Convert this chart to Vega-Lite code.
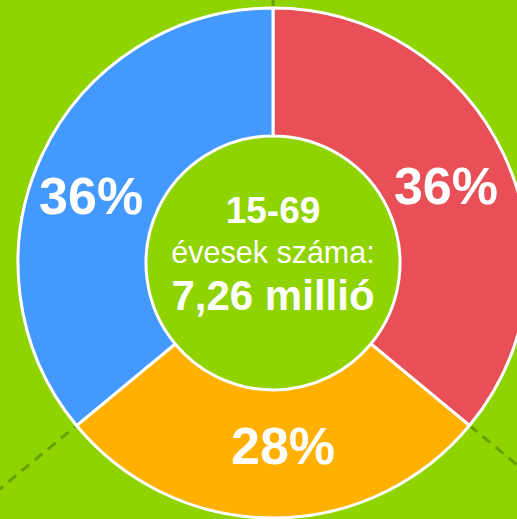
{
  "$schema": "https://vega.github.io/schema/vega-lite/v6.json",
  "width": 546,
  "height": 526,
  "padding": 0,
  "autosize": {"type": "none"},
  "background": "#8fd300",
  "view": {"stroke": null},
  "datasets": {
    "slices": [
      {"csoport": "A", "ertek": 36, "sorrend": 1, "cimke": "36%"},
      {"csoport": "B", "ertek": 28, "sorrend": 2, "cimke": "28%"},
      {"csoport": "C", "ertek": 36, "sorrend": 3, "cimke": "36%"}
    ],
    "lines": [
      {"id": 1, "x": 0, "y": 255},
      {"id": 1, "x": 0, "y": 420},
      {"id": 2, "x": 196.5, "y": -162.5},
      {"id": 2, "x": 330, "y": -273},
      {"id": 3, "x": -196.5, "y": -162.5},
      {"id": 3, "x": -330, "y": -273}
    ]
  },
  "layer": [
    {
      "data": {"name": "lines"},
      "mark": {"type": "line", "stroke": "#6a9f00", "strokeWidth": 3, "strokeDash": [10, 7], "clip": false},
      "encoding": {
        "x": {"field": "x", "type": "quantitative", "scale": {"domain": [-273, 273], "nice": false, "zero": false}, "axis": null},
        "y": {"field": "y", "type": "quantitative", "scale": {"domain": [-263, 263], "nice": false, "zero": false}, "axis": null},
        "detail": {"field": "id", "type": "nominal"}
      }
    },
    {
      "data": {"name": "slices"},
      "mark": {"type": "arc", "outerRadius": 255, "innerRadius": 127, "stroke": "white", "strokeWidth": 3},
      "encoding": {
        "theta": {"field": "ertek", "type": "quantitative", "stack": true},
        "order": {"field": "sorrend", "type": "quantitative"},
        "color": {"field": "csoport", "type": "nominal", "scale": {"domain": ["A", "B", "C"], "range": ["#e84f56", "#ffb000", "#4499ff"]}, "legend": null}
      }
    },
    {
      "data": {"name": "slices"},
      "mark": {"type": "text", "radius": 190, "dx": 1, "dy": 6, "font": "Liberation Sans", "fontWeight": "bold", "fontSize": 52, "fill": "white", "align": "center", "baseline": "middle"},
      "encoding": {
        "theta": {"field": "ertek", "type": "quantitative", "stack": true},
        "order": {"field": "sorrend", "type": "quantitative"},
        "text": {"field": "cimke", "type": "nominal"},
        "opacity": {"condition": {"test": "datum.csoport === 'A'", "value": 1}, "value": 0}
      }
    },
    {
      "data": {"name": "slices"},
      "mark": {"type": "text", "radius": 190, "dx": 10, "dy": -5, "font": "Liberation Sans", "fontWeight": "bold", "fontSize": 52, "fill": "white", "align": "center", "baseline": "middle"},
      "encoding": {
        "theta": {"field": "ertek", "type": "quantitative", "stack": true},
        "order": {"field": "sorrend", "type": "quantitative"},
        "text": {"field": "cimke", "type": "nominal"},
        "opacity": {"condition": {"test": "datum.csoport === 'B'", "value": 1}, "value": 0}
      }
    },
    {
      "data": {"name": "slices"},
      "mark": {"type": "text", "radius": 190, "dx": -10, "dy": 16, "font": "Liberation Sans", "fontWeight": "bold", "fontSize": 52, "fill": "white", "align": "center", "baseline": "middle"},
      "encoding": {
        "theta": {"field": "ertek", "type": "quantitative", "stack": true},
        "order": {"field": "sorrend", "type": "quantitative"},
        "text": {"field": "cimke", "type": "nominal"},
        "opacity": {"condition": {"test": "datum.csoport === 'C'", "value": 1}, "value": 0}
      }
    },
    {
      "data": {"values": [{"t": "15-69"}]},
      "mark": {"type": "text", "font": "Liberation Sans", "fontWeight": "bold", "fontSize": 37, "fill": "white", "align": "center", "baseline": "alphabetic", "dy": -40},
      "encoding": {"text": {"field": "t", "type": "nominal"}}
    },
    {
      "data": {"values": [{"t": "évesek száma:"}]},
      "mark": {"type": "text", "font": "Liberation Sans", "fontSize": 30.5, "fill": "white", "align": "center", "baseline": "alphabetic", "dy": 0},
      "encoding": {"text": {"field": "t", "type": "nominal"}}
    },
    {
      "data": {"values": [{"t": "7,26 millió"}]},
      "mark": {"type": "text", "font": "Liberation Sans", "fontWeight": "bold", "fontSize": 42, "fill": "white", "align": "center", "baseline": "alphabetic", "dy": 47},
      "encoding": {"text": {"field": "t", "type": "nominal"}}
    }
  ]
}
